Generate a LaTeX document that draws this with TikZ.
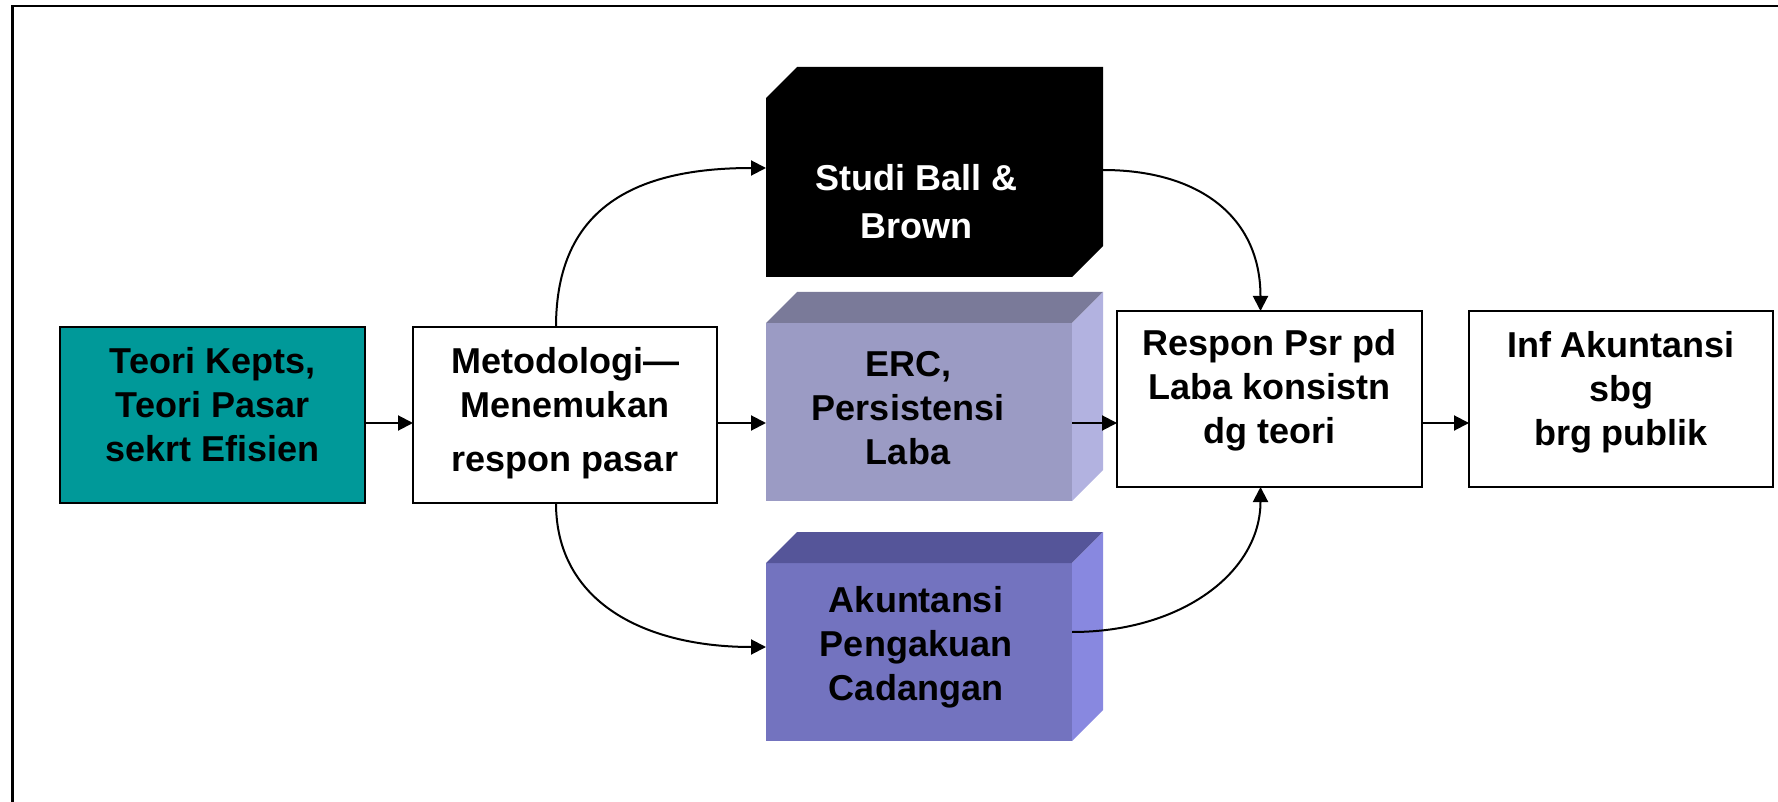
\documentclass[tikz,border=0pt]{standalone}
\usepackage{fontspec}
\setmainfont{Liberation Sans}
\usetikzlibrary{arrows.meta,fit,calc}
\definecolor{tealbox}{HTML}{009999}
\definecolor{ercFront}{HTML}{9B9BC4}
\definecolor{ercTop}{HTML}{7A7A99}
\definecolor{ercSide}{HTML}{B2B2E0}
\definecolor{akFront}{HTML}{7373BF}
\definecolor{akTop}{HTML}{555599}
\definecolor{akSide}{HTML}{8888E0}
\begin{document}
\begin{tikzpicture}[x=0.5pt,y=-0.5pt,
  box/.style={inner sep=0pt,outer sep=0pt,draw=black,line width=1pt},
  face/.style={inner sep=0pt,outer sep=0pt},
  txt/.style={inner sep=0pt,anchor=north,align=center,
    font=\fontsize{18}{22}\selectfont\bfseries},
  link/.style={line width=1pt,-{Triangle[length=7.5pt,width=7.5pt]}}]
\clip (0,0) rectangle (1778,802);
% outer frame
\draw[line width=1.25pt] (12.5,6) rectangle (1820,840);

% flat boxes
\node[box,fill=tealbox,fit={(60,327)(365,503)}] (teori) {};
\node[box,fill=white,fit={(413,327)(717,503)}] (meto) {};
\node[box,fill=white,fit={(1117,311)(1422,487)}] (respon) {};
\node[box,fill=white,fit={(1469,311)(1773,487)}] (inf) {};

% three-dimensional blocks: front faces
\node[face,fill=black,fit={(766,98)(1072,277)}] (ball) {};
\node[face,fill=ercFront,fit={(766,323)(1072,501)}] (erc) {};
\node[face,fill=akFront,fit={(766,563)(1072,741)}] (akun) {};

% top and side faces
\fill[black] (ball.north west) -- ++(31,-31) -- ($(ball.north east)+(31,-31)$) -- ($(ball.south east)+(31,-31)$) -- (ball.south east) -- cycle;
\fill[ercTop] (erc.north west) -- ++(31,-31) -- ($(erc.north east)+(31,-31)$) -- (erc.north east) -- cycle;
\fill[ercSide] (erc.north east) -- ++(31,-31) -- ($(erc.south east)+(31,-31)$) -- (erc.south east) -- cycle;
\fill[akTop] (akun.north west) -- ++(31,-31) -- ($(akun.north east)+(31,-31)$) -- (akun.north east) -- cycle;
\fill[akSide] (akun.north east) -- ++(31,-31) -- ($(akun.south east)+(31,-31)$) -- (akun.south east) -- cycle;

% texts
\node[txt] (teoriT) at (212.5,347) {Teori Kepts,\\Teori Pasar\\sekrt Efisien};
\node[txt] (metoT) at (565,347) {Metodologi—\\Menemukan\\[5pt]respon pasar};
\node[txt,text=white] (ballT) at (916.5,164) {Studi Ball \&\\[2pt]Brown};
\node[txt] (ercT) at (908,351) {ERC,\\Persistensi\\Laba};
\node[txt] (akunT) at (916,586) {Akuntansi\\Pengakuan\\Cadangan};
\node[txt] (responT) at (1269.5,329) {Respon Psr pd\\Laba konsistn\\dg teori};
\node[txt] (infT) at (1621,331) {Inf Akuntansi\\sbg\\brg publik};

% connectors
\coordinate (row) at (0,423);
\coordinate (yb) at (0,168);
\coordinate (yc) at (0,170);
\coordinate (ya) at (0,647);
\coordinate (yd) at (0,632);
\draw[link] (teori.east |- row) -- (meto.west |- row);
\draw[link] (meto.east |- row) -- (erc.west |- row);
\draw[link] (erc.east |- row) -- (respon.west |- row);
\draw[link] (respon.east |- row) -- (inf.west |- row);

\draw[link] ($(meto.north)+(-9,0)$) .. controls +(0,-120) and +(-130,0) .. (ball.west |- yb);
\draw[link] ($(ball.east |- yc)+(31,0)$) .. controls +(95,0) and +(0,-95) .. ($(respon.north)+(-9,0)$);
\draw[link] ($(meto.south)+(-9,0)$) .. controls +(0,100) and +(-120,0) .. (akun.west |- ya);
\draw[link] (akun.east |- yd) .. controls +(110,0) and +(0,85) .. ($(respon.south)+(-9,0)$);
\end{tikzpicture}
\end{document}
